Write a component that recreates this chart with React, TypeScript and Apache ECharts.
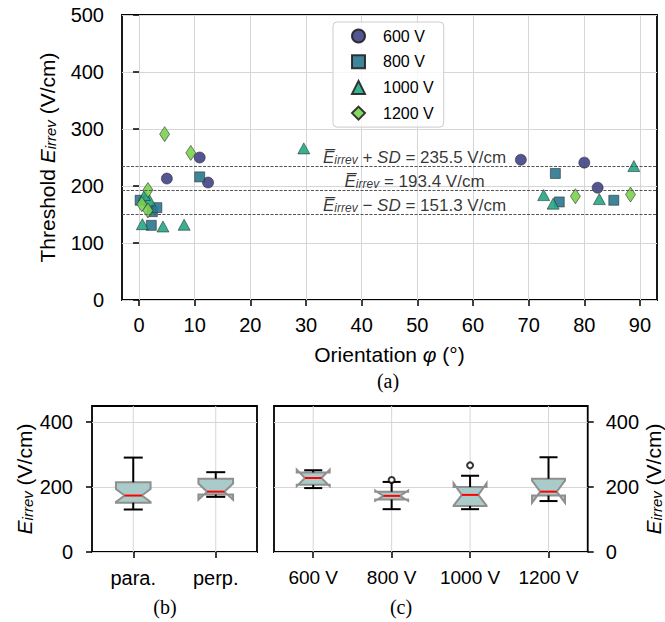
import React, { useEffect, useRef } from 'react';
import * as echarts from 'echarts';

// ---------- data (a) ----------
const orient600 = [5.0, 10.9, 12.4, 68.6, 80.0, 82.4];
const field600 = [213, 250, 206, 246, 241, 197];
const orient800 = [0.2, 2.4, 3.2, 2.2, 10.9, 74.8, 75.5, 85.3];
const field800 = [175, 155, 162, 131, 216, 222, 172, 175];
const orient1000 = [0.6, 4.3, 8.1, 1.9, 1.0, 29.6, 72.7, 74.4, 82.7, 88.9];
const field1000 = [133, 129, 132, 175, 184, 266, 184, 169, 177, 235];
const orient1200 = [4.6, 9.3, 1.6, 0.5, 1.6, 78.4, 88.3];
const field1200 = [291, 258, 193, 168, 157, 182, 185];

const voltageLabels = ['600 V', '800 V', '1000 V', '1200 V'];
const orientTicks = [0, 10, 20, 30, 40, 50, 60, 70, 80, 90];
const meanValues = [235.5, 193.4, 151.3];
const meanOps = ['+', '', '\u2212'];
const meanLabelX = 49.5;

// ---------- data (b) ----------
const catsB = ['para.', 'perp.'];
const wLowB = [131, 170];
const q1B = [152, 177];
const medB = [174, 186];
const q3B = [215, 226];
const wHighB = [291, 246];
const notchLowB = [154, 161];
const notchHighB = [194, 211];

// ---------- data (c) ----------
const catsC = ['600 V', '800 V', '1000 V', '1200 V'];
const wLowC = [197, 132, 132, 157];
const q1C = [207, 162, 142, 174];
const medC = [228, 173, 176, 186];
const q3C = [245, 186, 200, 226];
const wHighC = [252, 216, 235, 292];
const notchLowC = [203, 158, 143, 152];
const notchHighC = [254, 189, 212, 220];
const outlierCats = ['800 V', '1000 V'];
const outlierVals = [222, 267];

const bottomTicks = [0, 200, 400];

const FONT = "'Liberation Sans', Arial, sans-serif";
const SERIF = "'Liberation Serif', 'Times New Roman', serif";
const colors = ['#414487', '#2a788e', '#22a884', '#7ad151'];

const zip = (a: number[], b: number[]) => a.map((v, i) => [v, b[i]]);

const tickStyle = { show: true, inside: false, length: 6, lineStyle: { color: '#000', width: 1.5 } };
const gridLineStyle = { color: '#d6d6d6', width: 1 };

const richBase = (fs: number) => ({
  t: { fontFamily: FONT, fontSize: fs, color: '#000' },
  e: { fontFamily: FONT, fontSize: fs, fontStyle: 'italic', color: '#000' },
  i: { fontFamily: FONT, fontSize: fs, fontStyle: 'italic', color: '#000' },
  s: { fontFamily: FONT, fontSize: Math.round(fs * 0.7), fontStyle: 'italic', color: '#000', verticalAlign: 'bottom' },
});

function boxRows(wl: number[], q1: number[], md: number[], q3: number[], wh: number[], nl: number[], nh: number[]) {
  return wl.map((_, i) => [i, wl[i], q1[i], md[i], q3[i], wh[i], nl[i], nh[i]]);
}

const BOTTOM_MAX = 450;

function makeBoxRender(widthFrac: number, capFrac: number) {
  return (params: any, api: any) => {
    const idx = api.value(0);
    const wLow = api.value(1), q1 = api.value(2), med = api.value(3), q3 = api.value(4), wHigh = api.value(5);
    const nLow = api.value(6), nHigh = api.value(7);
    const band = api.size([1, 0])[0];
    const hw = (band * widthFrac) / 2;
    const inner = hw / 2;
    const capHw = (band * capFrac) / 2;
    const cx = api.coord([idx, med])[0];
    const y = (v: number) => api.coord([idx, v])[1];
    const poly = [
      [cx - hw, y(q1)], [cx + hw, y(q1)], [cx + hw, y(nLow)], [cx + inner, y(med)],
      [cx + hw, y(nHigh)], [cx + hw, y(q3)], [cx - hw, y(q3)], [cx - hw, y(nHigh)],
      [cx - inner, y(med)], [cx - hw, y(nLow)],
    ];
    const blk = { stroke: '#000', lineWidth: 2 };
    return {
      type: 'group',
      children: [
        { type: 'line', shape: { x1: cx, y1: y(0), x2: cx, y2: y(BOTTOM_MAX) }, style: { stroke: '#d6d6d6', lineWidth: 1 } },
        { type: 'polygon', shape: { points: poly }, style: { fill: '#a9cbc9', stroke: '#8f8f8f', lineWidth: 2, lineJoin: 'miter' } },
        { type: 'line', shape: { x1: cx, y1: y(q3), x2: cx, y2: y(wHigh) }, style: blk },
        { type: 'line', shape: { x1: cx, y1: y(q1), x2: cx, y2: y(wLow) }, style: blk },
        { type: 'line', shape: { x1: cx - capHw, y1: y(wHigh), x2: cx + capHw, y2: y(wHigh) }, style: blk },
        { type: 'line', shape: { x1: cx - capHw, y1: y(wLow), x2: cx + capHw, y2: y(wLow) }, style: blk },
        { type: 'line', shape: { x1: cx - inner, y1: y(med), x2: cx + inner, y2: y(med) }, style: { stroke: '#ff0000', lineWidth: 2 } },
      ],
    };
  };
}

function buildOption(): any {
  const meanData = meanValues.map((v, i) => ({
    value: [meanLabelX, v],
    label: {
      formatter: meanOps[i]
        ? `{e|E\u0305}{s|irrev}{t| ${meanOps[i]} }{i|SD}{t| = ${v.toFixed(1)} V/cm}`
        : `{e|E\u0305}{s|irrev}{t| = ${v.toFixed(1)} V/cm}`,
    },
  }));

  const scatterCommon = (name: string, color: string, symbol: string, size: any, x: number[], y: number[]) => ({
    name,
    type: 'scatter',
    xAxisIndex: 0,
    yAxisIndex: 0,
    symbol,
    symbolSize: size,
    data: zip(x, y),
    z: 3,
    itemStyle: { color, borderColor: '#222', borderWidth: 0.6, opacity: 0.9 },
  });

  return {
    animation: false,
    backgroundColor: '#fff',
    textStyle: { fontFamily: FONT },
    grid: [
      { left: 122, top: 15, width: 535, height: 285, show: true, borderColor: '#000', borderWidth: 1.8, backgroundColor: 'transparent' },
      { left: 92, top: 406, width: 165, height: 146, show: true, borderColor: '#000', borderWidth: 1.8, backgroundColor: 'transparent' },
      { left: 274, top: 406, width: 314, height: 146, show: true, borderColor: '#000', borderWidth: 1.8, backgroundColor: 'transparent' },
    ],
    legend: {
      data: voltageLabels,
      orient: 'vertical',
      left: 333,
      top: 22,
      itemWidth: 13,
      itemHeight: 13,
      itemGap: 9.7,
      padding: [6, 10, 6, 18],
      borderColor: '#cccccc',
      borderWidth: 1,
      borderRadius: 4,
      backgroundColor: 'rgba(255,255,255,0.8)',
      textStyle: { fontFamily: FONT, fontSize: 16, color: '#000', padding: [0, 0, 0, 13] },
    },
    xAxis: [
      {
        gridIndex: 0,
        type: 'value',
        min: -3.06,
        max: 93.06,
        axisLine: { show: false },
        axisTick: { ...tickStyle, customValues: orientTicks },
        axisLabel: { customValues: orientTicks, fontFamily: FONT, fontSize: 20, color: '#000', margin: 15 },
        splitLine: { show: true, lineStyle: gridLineStyle },
        name: 'Orientation {p|\u03c6} (\u00b0)',
        nameLocation: 'middle',
        nameGap: 44,
        nameTextStyle: {
          fontFamily: FONT, fontSize: 21, color: '#000',
          rich: { p: { fontFamily: FONT, fontSize: 21, fontStyle: 'italic', color: '#000' } },
        },
      },
      {
        gridIndex: 1,
        type: 'category',
        data: catsB,
        boundaryGap: true,
        axisLine: { show: false },
        axisTick: { ...tickStyle, alignWithLabel: true },
        axisLabel: { fontFamily: FONT, fontSize: 20, color: '#000', margin: 16 },
        splitLine: { show: false },
      },
      {
        gridIndex: 2,
        type: 'category',
        data: catsC,
        boundaryGap: true,
        axisLine: { show: false },
        axisTick: { ...tickStyle, alignWithLabel: true },
        axisLabel: { fontFamily: FONT, fontSize: 19, color: '#000', margin: 16, interval: 0 },
        splitLine: { show: false },
      },
    ],
    yAxis: [
      {
        gridIndex: 0,
        type: 'value',
        min: 0,
        max: 500,
        interval: 100,
        axisLine: { show: false },
        axisTick: tickStyle,
        axisLabel: { fontFamily: FONT, fontSize: 20, color: '#000', margin: 18 },
        splitLine: { show: true, lineStyle: gridLineStyle },
        name: '{t|Threshold }{e|E}{s|irrev}{t| (V/cm)}',
        nameLocation: 'middle',
        nameGap: 64,
        nameTextStyle: { fontFamily: FONT, fontSize: 21, color: '#000', rich: richBase(21) },
      },
      {
        gridIndex: 1,
        type: 'value',
        min: 0,
        max: BOTTOM_MAX,
        interval: 200,
        axisLine: { show: false },
        axisTick: { ...tickStyle, customValues: bottomTicks },
        axisLabel: { customValues: bottomTicks, fontFamily: FONT, fontSize: 20, color: '#000', margin: 19 },
        splitLine: { show: true, lineStyle: gridLineStyle },
        name: '{e|E}{s|irrev}{t| (V/cm)}',
        nameLocation: 'middle',
        nameGap: 57,
        nameTextStyle: { fontFamily: FONT, fontSize: 21, color: '#000', rich: richBase(21) },
      },
      {
        gridIndex: 2,
        type: 'value',
        position: 'right',
        min: 0,
        max: BOTTOM_MAX,
        interval: 200,
        axisLine: { show: false },
        axisTick: { ...tickStyle, customValues: bottomTicks },
        axisLabel: { customValues: bottomTicks, fontFamily: FONT, fontSize: 20, color: '#000', margin: 18 },
        splitLine: { show: true, lineStyle: gridLineStyle },
        name: '{e|E}{s|irrev}{t| (V/cm)}',
        nameLocation: 'middle',
        nameRotate: 90,
        nameGap: 55,
        nameTextStyle: { fontFamily: FONT, fontSize: 21, color: '#000', rich: richBase(21) },
      },
    ],
    series: [
      scatterCommon('600 V', colors[0], 'circle', 11, orient600, field600),
      scatterCommon('800 V', colors[1], 'rect', 10, orient800, field800),
      scatterCommon('1000 V', colors[2], 'triangle', [12, 11], orient1000, field1000),
      scatterCommon('1200 V', colors[3], 'diamond', [10, 15], orient1200, field1200),
      {
        name: 'mean',
        type: 'scatter',
        xAxisIndex: 0,
        yAxisIndex: 0,
        symbolSize: 0,
        silent: true,
        z: 2,
        data: meanData,
        label: {
          show: true,
          position: 'top',
          distance: 0,
          color: '#000',
          rich: richBase(17),
        },
        markLine: {
          silent: true,
          symbol: 'none',
          label: { show: false },
          lineStyle: { color: '#555', width: 1, type: [3, 1.5] },
          data: meanValues.map((v) => ({ yAxis: v })),
        },
      },
      {
        type: 'custom',
        xAxisIndex: 1,
        yAxisIndex: 1,
        renderItem: makeBoxRender(0.42, 0.23),
        encode: { x: 0, y: [1, 2, 3, 4, 5] },
        data: boxRows(wLowB, q1B, medB, q3B, wHighB, notchLowB, notchHighB),
        z: 3,
      },
      {
        type: 'custom',
        xAxisIndex: 2,
        yAxisIndex: 2,
        renderItem: makeBoxRender(0.42, 0.23),
        encode: { x: 0, y: [1, 2, 3, 4, 5] },
        data: boxRows(wLowC, q1C, medC, q3C, wHighC, notchLowC, notchHighC),
        z: 3,
      },
      {
        type: 'scatter',
        xAxisIndex: 2,
        yAxisIndex: 2,
        symbol: 'circle',
        symbolSize: 6,
        z: 4,
        data: outlierCats.map((c, i) => [c, outlierVals[i]]),
        itemStyle: { color: '#fff', borderColor: '#000', borderWidth: 2 },
      },
    ],
    graphic: [
      { type: 'text', x: 388, y: 381, style: { text: '(a)', fontFamily: SERIF, fontSize: 20, fill: '#000', align: 'center', verticalAlign: 'middle' } },
      { type: 'text', x: 165, y: 607, style: { text: '(b)', fontFamily: SERIF, fontSize: 20, fill: '#000', align: 'center', verticalAlign: 'middle' } },
      { type: 'text', x: 401, y: 607, style: { text: '(c)', fontFamily: SERIF, fontSize: 20, fill: '#000', align: 'center', verticalAlign: 'middle' } },
    ],
  };
}

export default function App() {
  const ref = useRef<HTMLDivElement>(null);
  useEffect(() => {
    const chart = echarts.init(ref.current!, null, { renderer: 'svg' });
    chart.setOption(buildOption());
    return () => chart.dispose();
  }, []);
  return (
    <div
      ref={ref}
      style={{ position: 'fixed', left: 0, top: 0, width: 665, height: 622, background: '#fff' }}
    />
  );
}
